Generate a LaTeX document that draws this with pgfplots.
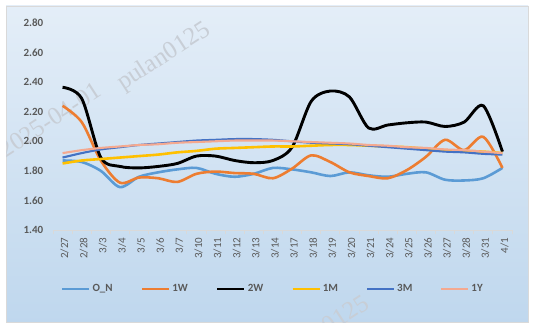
\documentclass[border=0pt]{standalone}
\usepackage{fontspec}
\setmainfont{Carlito}
\newfontfamily\wmfont{Liberation Serif}
\usepackage{pgfplots}
\usepackage{pgfplotstable}
\pgfplotsset{compat=1.18}
\definecolor{cON}{HTML}{5B9BD5}
\definecolor{c1W}{HTML}{ED7D31}
\definecolor{c2W}{HTML}{000000}
\definecolor{c1M}{HTML}{FFC000}
\definecolor{c3M}{HTML}{4472C4}
\definecolor{c1Y}{HTML}{F4A990}
\definecolor{labgray}{HTML}{595959}
\definecolor{axgray}{HTML}{D9D9D9}
\definecolor{framegray}{HTML}{D9D9D9}
\definecolor{wmgray}{HTML}{C8CED6}
\definecolor{bgA}{HTML}{CADFF2}
\definecolor{bgB}{HTML}{BAD4EC}
\definecolor{bgC}{HTML}{F6F9FD}
\pgfdeclareverticalshading{bgshade}{100bp}{color(0bp)=(bgA); color(18bp)=(bgB); color(100bp)=(bgC)}

\pgfplotstableread{
i   ON     W1     W2     M1     M3     Y1
0   1.87   2.24   2.365  1.85   1.89   1.92
1   1.86   2.13   2.29   1.87   1.92   1.94
2   1.80   1.87   1.89   1.88   1.945  1.955
3   1.69   1.72   1.83   1.89   1.96   1.965
4   1.76   1.755  1.82   1.90   1.975  1.975
5   1.79   1.75   1.83   1.91   1.985  1.98
6   1.81   1.725  1.85   1.925  1.995  1.99
7   1.82   1.78   1.90   1.935  2.005  1.995
8   1.78   1.795  1.90   1.95   2.01   2.00
9   1.76   1.785  1.87   1.955  2.015  2.005
10  1.78   1.78   1.855  1.96   2.015  2.005
11  1.82   1.75   1.87   1.965  2.01   2.005
12  1.81   1.815  1.96   1.965  2.00   2.00
13  1.79   1.905  2.27   1.97   1.99   1.995
14  1.765  1.86   2.34   1.975  1.985  1.99
15  1.79   1.79   2.30   1.975  1.98   1.985
16  1.77   1.765  2.09   1.97   1.97   1.975
17  1.76   1.75   2.11   1.965  1.96   1.97
18  1.78   1.805  2.125  1.96   1.95   1.96
19  1.79   1.895  2.13   1.95   1.94   1.955
20  1.74   2.01   2.10   1.94   1.93   1.945
21  1.735  1.94   2.13   1.935  1.925  1.94
22  1.75   2.03   2.24   1.93   1.915  1.93
23  1.82   1.82   1.93   1.92   1.91   1.92
}\rates

\begin{document}
\begin{tikzpicture}
\path[use as bounding box] (0pt,0pt) rectangle (536pt,330pt);
\fill[white] (0pt,0pt) rectangle (536pt,330pt);
\shade[shading=bgshade] (6pt,8pt) rectangle (528pt,324pt);
\draw[framegray, line width=0.9pt] (6pt,8pt) rectangle (528pt,324pt);
\begin{scope}
\clip (6pt,8pt) rectangle (528pt,324pt);
\node[wmgray, rotate=33, font=\wmfont\fontsize{25}{25}\selectfont] at (50pt,210pt) {2025-04-01};
\node[wmgray, rotate=33, font=\wmfont\fontsize{25}{25}\selectfont] at (164pt,273pt) {pulan0125};
\node[wmgray, rotate=33, font=\wmfont\fontsize{25}{25}\selectfont] at (323pt,-1pt) {pulan0125};
\end{scope}
\begin{axis}[
  at={(53pt,100pt)}, anchor=south west,
  scale only axis, width=459pt, height=207pt,
  xmin=-0.5, xmax=23.5, ymin=1.4, ymax=2.8,
  axis x line*=bottom, axis y line*=left,
  separate axis lines,
  y axis line style={draw=none},
  x axis line style={draw=axgray, line width=0.9pt},
  xtick={0,...,23},
  xticklabels={2/27,2/28,3/3,3/4,3/5,3/6,3/7,3/10,3/11,3/12,3/13,3/14,3/17,3/18,3/19,3/20,3/21,3/24,3/25,3/26,3/27,3/28,3/31,4/1},
  major x tick style={draw=none},
  minor xtick={-0.5,0.5,...,23.5},
  minor x tick style={draw=axgray, line width=0.9pt},
  minor tick length=4pt,
  tick align=outside,
  x tick label style={rotate=90, anchor=east, font=\fontsize{11}{12}\selectfont, text=labgray, yshift=-2pt},
  ytick={1.4,1.6,1.8,2.0,2.2,2.4,2.6,2.8},
  ytick style={draw=none},
  /pgf/number format/assume math mode=true,
  yticklabel style={/pgf/number format/fixed, /pgf/number format/fixed zerofill, /pgf/number format/precision=2, font=\bfseries\fontsize{11}{12}\selectfont, text=labgray, xshift=-2pt},
  legend columns=6,
  legend style={at={(0.479,-0.285)}, anchor=center, draw=none, fill=none,
    font=\bfseries\fontsize{11}{12}\selectfont, text=labgray,
    /tikz/every even column/.append style={column sep=26pt}},
  legend image code/.code={\draw[#1] (0pt,0pt) -- (27pt,0pt);},
  every axis plot/.append style={smooth, tension=0.5, no markers},
]
\addplot[cON, line width=2.6pt] table[x=i, y=ON] {\rates};
\addlegendentry{O\_N}
\addplot[c1W, line width=2.6pt] table[x=i, y=W1] {\rates};
\addlegendentry{1W}
\addplot[c2W, line width=2.9pt] table[x=i, y=W2] {\rates};
\addlegendentry{2W}
\addplot[c1M, line width=2.6pt] table[x=i, y=M1] {\rates};
\addlegendentry{1M}
\addplot[c3M, line width=2.1pt] table[x=i, y=M3] {\rates};
\addlegendentry{3M}
\addplot[c1Y, line width=2.1pt] table[x=i, y=Y1] {\rates};
\addlegendentry{1Y}
\end{axis}
\end{tikzpicture}
\end{document}
